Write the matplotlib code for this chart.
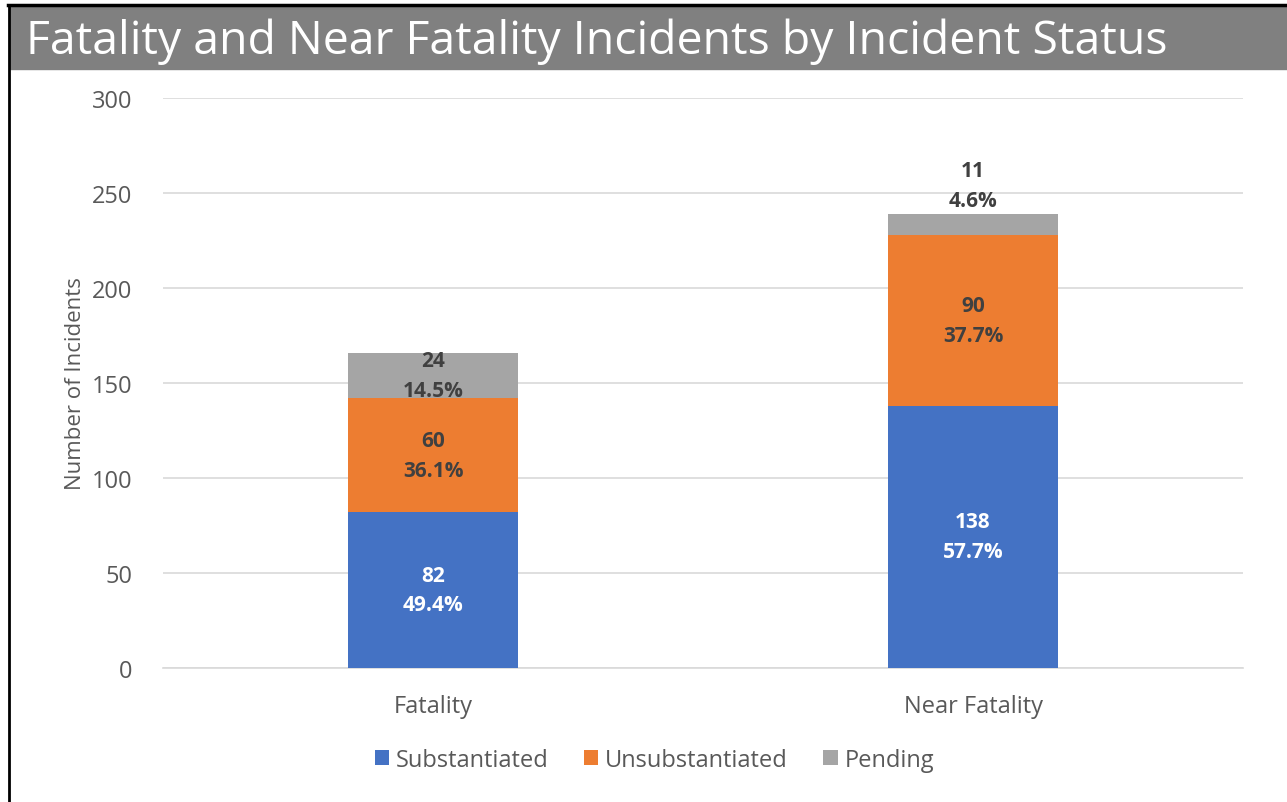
import numpy as np
import matplotlib.pyplot as plt
from matplotlib.patches import Rectangle

plt.rcParams['font.family'] = ['Open Sans', 'DejaVu Sans']

categories = ['Fatality', 'Near Fatality']
substantiated = [82, 138]
unsubstantiated = [60, 90]
pending = [24, 11]
pct_substantiated = ['49.4%', '57.7%']
pct_unsubstantiated = ['36.1%', '37.7%']
pct_pending = ['14.5%', '4.6%']

series_names = ['Substantiated', 'Unsubstantiated', 'Pending']
colors = ['#4472C4', '#ED7D31', '#A5A5A5']
label_colors = ['white', '#404040', '#404040']

fig = plt.figure(figsize=(12.87, 8.03), dpi=100)

# title bar and frame
fig.patches.append(Rectangle((10 / 1287, 1 - 70 / 803), 1, 63 / 803,
                             transform=fig.transFigure, color='#808080', zorder=0))
fig.add_artist(plt.Line2D([8 / 1287, 1], [1 - 6 / 803, 1 - 6 / 803],
                          transform=fig.transFigure, color='black', lw=2.5))
fig.add_artist(plt.Line2D([9 / 1287, 9 / 1287], [0, 1 - 6 / 803],
                          transform=fig.transFigure, color='black', lw=2))
fig.text(26 / 1287, 1 - 42 / 803, 'Fatality and Near Fatality Incidents by Incident Status',
         color='white', fontsize=33.4, va='center', ha='left')

ax = fig.add_axes([163 / 1287, 1 - 669 / 803, 1080 / 1287, 570 / 803])
x = np.arange(len(categories))
width = 0.313

values = [substantiated, unsubstantiated, pending]
pcts = [pct_substantiated, pct_unsubstantiated, pct_pending]
bottom = np.zeros(len(categories))
for name, vals, pc, col, lc in zip(series_names, values, pcts, colors, label_colors):
    ax.bar(x, vals, width, bottom=bottom, color=col, label=name, zorder=3)
    for i, v in enumerate(vals):
        if v < 15:
            # small segment: label sits above the bar
            ax.text(x[i], bottom[i] + v + 1.5, f'{v}\n{pc[i]}', ha='center', va='bottom',
                    color=lc, fontsize=15, fontweight='bold', linespacing=1.55, zorder=4)
        else:
            ax.text(x[i], bottom[i] + v / 2, f'{v}\n{pc[i]}', ha='center', va='center',
                    color=lc, fontsize=15, fontweight='bold', linespacing=1.55, zorder=4)
    bottom += np.array(vals)

ax.set_xlim(-0.5, 1.5)
ax.set_ylim(0, 300)
ax.set_yticks(range(0, 301, 50))
ax.set_xticks(x)
ax.set_xticklabels(categories)
ax.tick_params(length=0, labelsize=17, colors='#595959')
ax.tick_params(axis='y', pad=22)
ax.tick_params(axis='x', pad=19)
ax.grid(axis='y', color='#D9D9D9', lw=1.2, zorder=0)
for s in ['top', 'right', 'left']:
    ax.spines[s].set_visible(False)
ax.spines['bottom'].set_color('#D9D9D9')
ax.spines['bottom'].set_linewidth(1.2)
ax.set_ylabel('Number of Incidents', fontsize=16, color='#595959', labelpad=4)

ax.legend(loc='center', bbox_to_anchor=(0.455, -0.161), ncol=3, frameon=False,
          fontsize=17, labelcolor='#595959', handlelength=0.6, handleheight=0.6,
          handletextpad=0.3, columnspacing=1.5)

fig.savefig('out.png', dpi=100)
